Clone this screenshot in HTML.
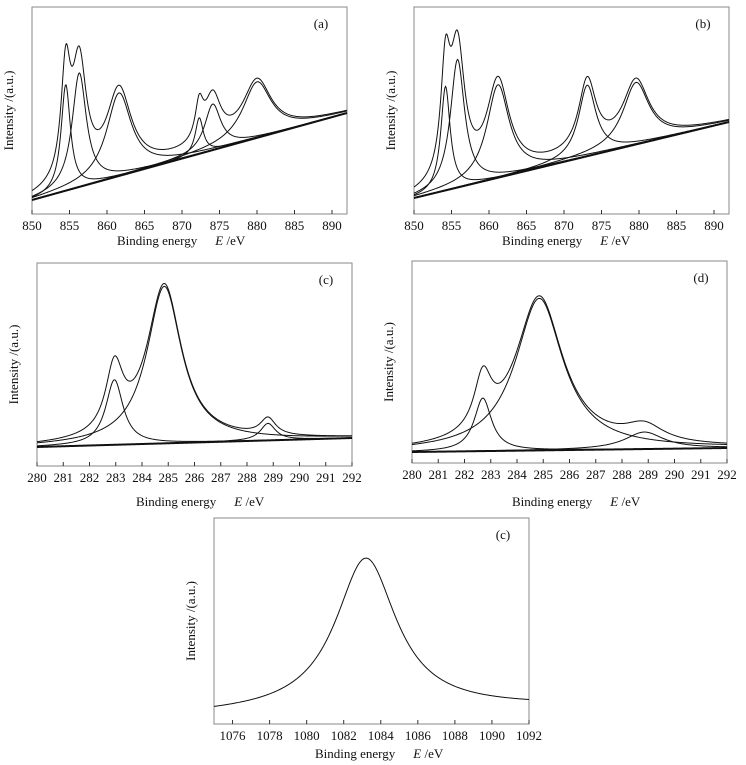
<!DOCTYPE html>
<html><head><meta charset="utf-8"><style>
body{margin:0;background:#fff}
svg{display:block;font-family:"Liberation Serif",serif}
</style></head><body>
<svg id="fig" width="746" height="765" viewBox="0 0 746 765"></svg>
<script>
// ---- data (binding energy in eV, intensity in a.u.) ----
const aCenters=[854.5,856.3,861.6,872.3,874.1,880.0];
const aHeights=[106,114,83,36,46,56];
const aFwhm=[1.5,2.3,4.0,1.3,2.6,4.6];
const aBaseline=[14,101];
const bCenters=[854.2,855.8,861.2,873.1,879.6];
const bHeights=[104,128,93,71,62];
const bFwhm=[1.5,2.3,3.6,2.8,4.2];
const bBaseline=[16,92];
const cCenters=[282.95,284.85,288.8];
const cHeights=[65,157,17];
const cFwhm=[0.8,1.6,0.7];
const cBaseline=[19,28];
const dCenters=[282.7,284.85,288.85];
const dHeights=[53,152,17];
const dFwhm=[0.8,2.2,1.8];
const dBaseline=[11,15];
const eCenters=[1083.2];
const eHeights=[153];
const eFwhm=[4.0];
const eBaseline=[9,17];
const niTicks=[850,855,860,865,870,875,880,885,890];
const cTicks=[280,281,282,283,284,285,286,287,288,289,290,291,292];
const siTicks=[1076,1078,1080,1082,1084,1086,1088,1090,1092];

const NS="http://www.w3.org/2000/svg";
const svg=document.getElementById('fig');
function mk(tag,attrs,parent){const e=document.createElementNS(NS,tag);for(const k in attrs)e.setAttribute(k,attrs[k]);(parent||svg).appendChild(e);return e;}

function panel(o){
  const g=mk('g',{});
  
  
  const sx=v=>o.x0+(v-o.xmin)/(o.xmax-o.xmin)*(o.x1-o.x0);
  const sy=v=>o.y1-(v/o.ymax)*(o.y1-o.y0);
  const base=e=>o.base[0]+(o.base[1]-o.base[0])*(e-o.xmin)/(o.xmax-o.xmin);
  const lor=(e,i)=>o.h[i]/(1+Math.pow((e-o.c[i])/(o.w[i]/2),2));
  const N=500;
  function path(fn,name,sw){
    let d='';
    for(let k=0;k<=N;k++){const e=o.xmin+(o.xmax-o.xmin)*k/N;d+=(k?'L':'M')+sx(e).toFixed(2)+','+sy(fn(e)).toFixed(2);}
    const p=mk('path',{d:d,fill:'none',stroke:'#111','stroke-width':sw||1},g);
    
    
  }
  const r=mk('rect',{x:o.x0,y:o.y0,width:o.x1-o.x0,height:o.y1-o.y0,fill:'none',stroke:'#888','stroke-width':1},g);
  
  
  if(o.showBase) path(e=>base(e),'background-line',2);
  if(o.c.length>1){
    for(let i=0;i<o.c.length;i++) path(e=>base(e)+lor(e,i),'component-peak-'+(i+1),1);
  }
  path(e=>{let s=base(e);for(let i=0;i<o.c.length;i++)s+=lor(e,i);return s;},'envelope-curve',1);
  o.ticks.forEach(t=>{
    const x=sx(t);
    const l=mk('line',{x1:x,x2:x,y1:o.y1,y2:o.y1-4,stroke:'#333','stroke-width':1},g);
    
    
    const tx=mk('text',{x:x,y:o.y1+16,'text-anchor':'middle','font-size':13,fill:'#111'},g);
    tx.textContent=t;
    
    
  });
  const lab=mk('text',{x:o.x1-26,y:o.y0+21,'font-size':13,fill:'#111','text-anchor':'middle'},g);
  lab.textContent=o.label;
  
  
  const yc=(o.y0+o.y1)/2;
  const yt=mk('text',{x:0,y:0,'font-size':13,fill:'#111','text-anchor':'middle',transform:'translate('+(o.x0-19)+','+yc+') rotate(-90)'},g);
  yt.textContent='Intensity /(a.u.)';
  
  
  const xt=mk('text',{x:o.xt,y:o.xty,'font-size':13,fill:'#111'},g);
  
  
  xt.innerHTML='Binding energy<tspan dx="18" font-style="italic">E</tspan><tspan> /eV</tspan>';
}
panel({id:'a',label:'(a)',x0:32,x1:347,y0:7,y1:214,xmin:850,xmax:892,ymax:207,c:aCenters,h:aHeights,w:aFwhm,base:aBaseline,ticks:niTicks,xt:117,xty:245,showBase:true});
panel({id:'b',label:'(b)',x0:414,x1:729,y0:7,y1:214,xmin:850,xmax:892,ymax:207,c:bCenters,h:bHeights,w:bFwhm,base:bBaseline,ticks:niTicks,xt:502,xty:245,showBase:true});
panel({id:'c',label:'(c)',x0:37,x1:352,y0:263,y1:466,xmin:280,xmax:292,ymax:203,c:cCenters,h:cHeights,w:cFwhm,base:cBaseline,ticks:cTicks,xt:136,xty:506,showBase:true});
panel({id:'d',label:'(d)',x0:412,x1:727,y0:261,y1:463,xmin:280,xmax:292,ymax:202,c:dCenters,h:dHeights,w:dFwhm,base:dBaseline,ticks:cTicks,xt:512,xty:506,showBase:true});
panel({id:'e',label:'(c)',x0:214,x1:529,y0:518,y1:724,xmin:1075,xmax:1092,ymax:206,c:eCenters,h:eHeights,w:eFwhm,base:eBaseline,ticks:siTicks,xt:315,xty:758,showBase:false});
</script>
</body></html>
